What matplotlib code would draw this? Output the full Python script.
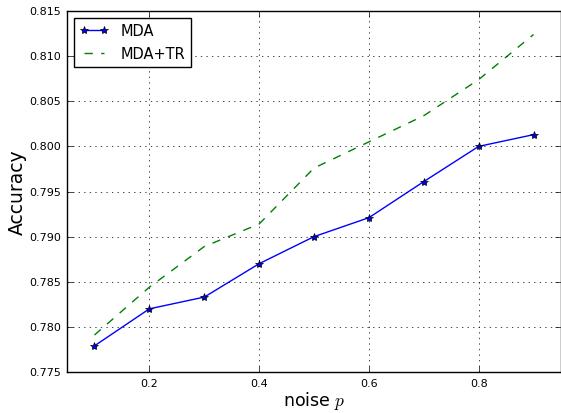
import matplotlib
matplotlib.use("Agg")
import matplotlib.pyplot as plt

plt.style.use("classic")

noise = [0.1, 0.2, 0.3, 0.4, 0.5, 0.6, 0.7, 0.8, 0.9]
mda = [0.7779, 0.7820, 0.7833, 0.7870, 0.7900, 0.7921, 0.7961, 0.8000, 0.8013]
mda_tr = [0.7791, 0.7844, 0.7889, 0.7914, 0.7976, 0.8005, 0.8034, 0.8074, 0.8124]
xticks = [0.2, 0.4, 0.6, 0.8]
yticks = [0.775, 0.780, 0.785, 0.790, 0.795, 0.800, 0.805, 0.810, 0.815]

fig = plt.figure(figsize=(5.61, 4.14), dpi=100)
ax = fig.add_axes([0.1195, 0.099, 0.8805, 0.872])
ax.plot(noise, mda, "b-*", markersize=6, label="MDA")
ax.plot(noise, mda_tr, "g--", label="MDA+TR")
ax.set_xlim(0.05, 0.95)
ax.set_ylim(0.775, 0.815)
ax.set_xticks(xticks)
ax.set_yticks(yticks)
ax.set_xticklabels([f"{v:.1f}" for v in xticks], fontsize=8)
ax.set_yticklabels([f"{v:.3f}" for v in yticks], fontsize=8)
ax.grid(True)
ax.set_xlabel("noise $p$", fontsize=12.5, labelpad=1)
ax.set_ylabel("Accuracy", fontsize=13.5, labelpad=2)
ax.legend(loc="upper left", fontsize=10.5, borderaxespad=0.45)
fig.savefig("out.png", dpi=100)
